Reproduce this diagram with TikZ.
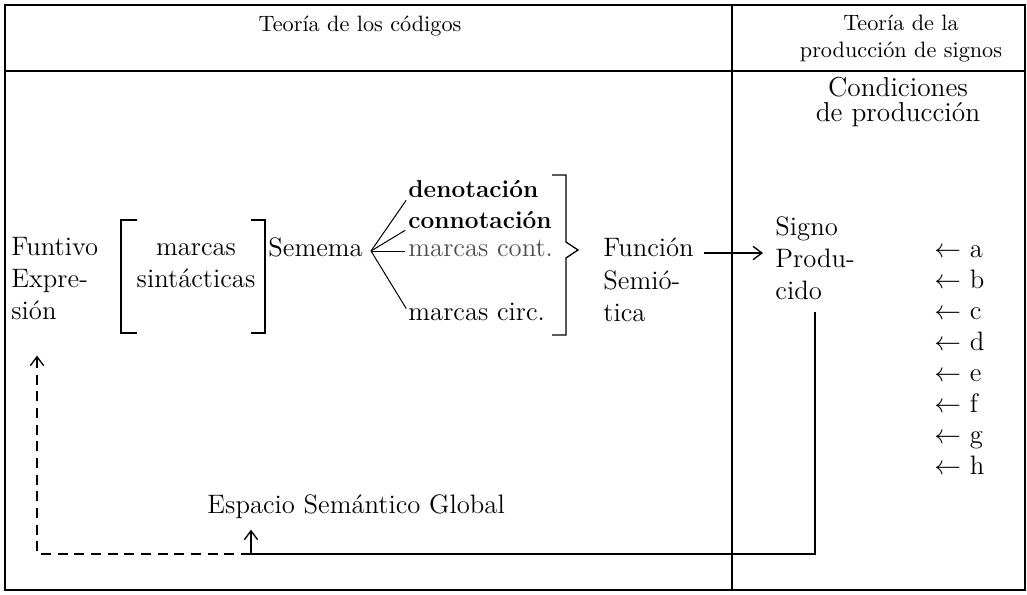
\documentclass[tikz,border=0pt]{standalone}
\usepackage{fontspec}
\usepackage{amssymb}
\usetikzlibrary{positioning,calc,arrows.meta}

\begin{document}
\begin{tikzpicture}[x=0.45pt,y=-0.45pt]
\tikzstyle{txt}=[inner sep=0pt, font=\fontsize{12}{14.4}\selectfont]
\tikzstyle{block}=[txt, align=left]
\tikzstyle{head}=[inner sep=0pt, font=\fontsize{10}{12.15}\selectfont, align=center]
\tikzstyle{feat}=[inner sep=0pt, font=\fontsize{11}{13}\selectfont\bfseries]
\tikzstyle{frame}=[line width=0.6pt]
\tikzstyle{branch}=[line width=0.45pt, shorten >=1.5pt]
\tikzstyle{connect}=[-{Straight Barb[length=4pt,width=6pt]}, line width=0.6pt]
\useasboundingbox (0,0) rectangle (1027,594);

% marco y cabecera
\draw[frame] (5,5) rectangle (1025,590);
\draw[frame] (5,71) -- (1025,71);
\draw[frame] (732,5) -- (732,590);

	\node[head, anchor=base] (tcod) at (360,31) {Teoría de los códigos};
	\node[head] (tprod) at (901,39) {Teoría de la\\producción de signos};
	\node[inner sep=0pt, font=\fontsize{12.3}{11}\selectfont, align=center] (cond) at (898,102) {Condiciones\\de producción};

% teoria de los codigos
	\node[block, anchor=west] (funt) at (11,279) {Funtivo\\Expre-\\sión};
	\node[txt, align=center] (sint) at (196,266) {marcas\\sintácticas};
	\draw[frame] (137,220) -- (121,220) -- (121,333) -- (137,333);
	\draw[frame] (251,220) -- (265,220) -- (265,333) -- (251,333);
	\node[txt, anchor=base west] (sem) at (268,256) {Semema};
	\coordinate (br) at (371,251);

	\node[feat, anchor=base west] (deno) at (408,197) {denotación};
	\node[feat, anchor=base west] (conno) at (408,228) {connotación};
	\node[txt, anchor=base west, text=black!70] (cont) at (408,256) {marcas cont.};
	\node[txt, anchor=base west] (circ) at (408,320) {marcas circ.};

	\path
		(br) edge [branch] (deno.south west)
		(br) edge [branch] (conno.south west)
		(br) edge [branch] (br -| cont.west)
		(br) edge [branch] (circ.west);

	\draw[frame] (552,175) -- (566,175) -- (566,242) -- (578,250) -- (566,258) -- (566,335) -- (552,335);

	\node[txt, anchor=base west] (fun) at (603,256) {Función};
	\node[block, anchor=north west] (semio) at (603,270) {Semió-\\tica};

% produccion de signos
	\node[block, anchor=west] (sig) at (775,258) {Signo\\Produ-\\cido};
	\foreach \l [count=\i from 0] in {a,b,c,d,e,f,g,h}
		\node[txt, anchor=base west] (cond\l) at (934,{257+31.1*\i}) {$\leftarrow$ \l};

	\node[txt, anchor=base west] (esp) at (207,513) {Espacio Semántico Global};
	\coordinate (turn) at (251,554);
	\coordinate (back) at (37,554);

	\draw[connect, shorten <=4.5pt, shorten >=5.4pt] ($(fun.base east)+(0,-3)$) -- ($(fun.base east -| sig.west)+(0,-3)$);
	\draw[connect, shorten <=5.4pt, shorten >=5pt] (sig.south) |- (turn) -- (turn |- esp.south);
	\draw[connect, dashed, dash pattern=on 4.5pt off 3pt, shorten >=15.75pt] (turn) -- (back) -- (back |- funt.south);
\end{tikzpicture}
\end{document}
